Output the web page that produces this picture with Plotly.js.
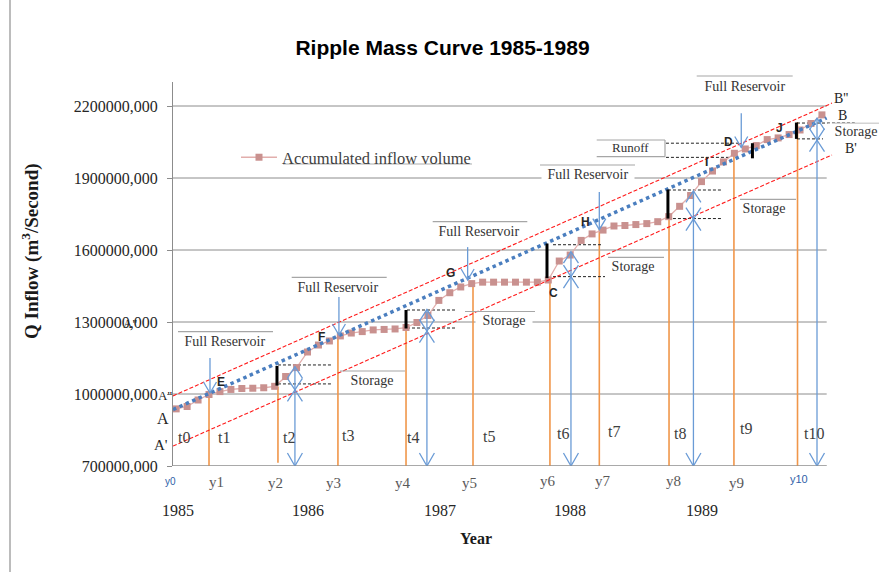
<!DOCTYPE html>
<html><head><meta charset="utf-8">
<script src="https://cdn.plot.ly/plotly-3.0.1.min.js"></script>
<style>html,body{margin:0;padding:0;background:#fff}</style>
</head><body>
<div id="chart" style="width:879px;height:572px"></div>
<script>
// ---------------- DATA ----------------
// monthly index of the accumulated inflow record (Jan 1985 = 0)
const months = [0,1,2,3,4,5,6,7,8,9,10,11,12,13,14,15,16,17,18,19,20,21,22,23,24,25,26,27,28,29,
                30,31,32,33,34,35,36,37,38,39,40,41,42,43,44,45,46,47,48,49,50,51,52,53,54,55,56,57,58,59];
// accumulated inflow volume (millions)
const inflow = [938,948,975,998,1010,1019,1023,1024,1026,1032,
                1073,1110,1175,1204,1221,1242,1254,1260,1267,1269,
                1271,1277,1298,1327,1390,1422,1446,1460,1466,1466,
                1466,1466,1466,1466,1475,1554,1579,1640,1667,1683,
                1700,1702,1706,1710,1718,1739,1782,1827,1885,1929,
                1967,2003,2021,2035,2060,2067,2081,2100,2127,2163];
const yTickVals = [700,1000,1300,1600,1900,2200];
const yTickText = ["700000,000","1000000,000","1300000,000","1600000,000","1900000,000","2200000,000"];
const yearLabels = ["1985","1986","1987","1988","1989"];
const periodLabels = ["y0","y1","y2","y3","y4","y5","y6","y7","y8","y9","y10"];
const intervalLabels = ["t0","t1","t2","t3","t4","t5","t6","t7","t8","t9","t10"];
const pointLabels = ["E","F","G","C","H","D","I","J"];

// trend (blue dotted) and envelope (red dashed) lines
const trendX = [-0.29, 59.43], trendY = [935, 2150];
const upperX = [-0.29, 59.92], upperY = [992, 2212];
const lowerX = [-0.29, 59.92], lowerY = [783, 1996];

// orange period lines y1..y10
const periodLineX = [3.0, 9.3, 14.78, 21.0, 27.12, 34.15, 38.66, 45.03, 50.96, 56.77];
const periodLineTop = [1000, 1031, 1246, 1273, 1462, 1475, 1686, 1739, 2003, 2133];
const periodLineBottom = [700, 714, 700, 700, 700, 700, 700, 700, 700, 700];

// blue "full reservoir" arrows (pointing down onto the curve)
const fullArrowX = [3.09, 14.87, 26.63, 38.66, 51.63];
const fullArrowTop = [1150, 1404, 1612, 1842, 2170];
const fullArrowTip = [1004, 1246, 1475, 1685, 2027];

// blue storage double arrows
const storArrowX = [10.85, 22.91, 36.07, 47.26, 58.55];
const storArrowTop = [1114, 1352, 1593, 1846, 2149];
const storArrowMid = [1017, 1262, 1489, 1729, 2058];
const storArrowBottom = [700, 700, 700, 700, 700];

// black storage bars
const barX = [9.21, 21.0, 33.88, 44.93, 52.65, 56.67];
const barTop = [1117, 1350, 1627, 1852, 2045, 2131];
const barBottom = [1035, 1273, 1483, 1731, 1982, 2063];

// black dashed level lines [x0, x1, level]
const levelX0 = [9.3, 9.3, 21.09, 21.09, 34.43, 34.43, 44.93, 44.93, 44.75, 44.75, 56.72, 56.72];
const levelX1 = [14.14, 14.14, 25.48, 25.48, 38.91, 39.18, 49.8, 49.8, 51.7, 50.6, 62.0, 59.1];
const levelY  = [1121, 1042, 1350, 1275, 1622, 1489, 1850, 1731, 2045, 1986, 2129, 2063];

// ---------------- GEOMETRY HELPERS ----------------
const L = 173, T = 82, W = 688, H = 384;
const XR = [-0.29, 62.57], YR = [700, 2300];
const pxPerX = W / (XR[1] - XR[0]);
const pxPerY = H / (YR[1] - YR[0]);
const PX = p => (p - L) / W;          // pixel -> paper x
const PY = p => (T + H - p) / H;      // pixel -> paper y
const xAxisEnd = XR[0] + 653.7 / pxPerX;

function addSeg(arrX, arrY, x0, y0, x1, y1) { arrX.push(x0, x1, null); arrY.push(y0, y1, null); }
function chevron(arrX, arrY, x, y, dir, hw, hh) {
  const dx = hw / pxPerX, dy = hh / pxPerY;
  arrX.push(x - dx, x, x + dx, null);
  arrY.push(y - dir * dy, y, y - dir * dy, null);
}

// orange lines
const oX = [], oY = [];
periodLineX.forEach((x, i) => addSeg(oX, oY, x, periodLineBottom[i], x, periodLineTop[i]));
// blue arrows
const bX = [], bY = [];
fullArrowX.forEach((x, i) => { addSeg(bX, bY, x, fullArrowTop[i], x, fullArrowTip[i]); chevron(bX, bY, x, fullArrowTip[i], -1, 6.5, 11); });
storArrowX.forEach((x, i) => {
  addSeg(bX, bY, x, storArrowTop[i], x, storArrowBottom[i]);
  chevron(bX, bY, x, storArrowTop[i], 1, 7.5, 11.5);
  chevron(bX, bY, x, storArrowMid[i], -1, 7.5, 11.5);
  chevron(bX, bY, x, storArrowMid[i], 1, 7.5, 11.5);
  chevron(bX, bY, x, storArrowBottom[i], -1, 7.5, 13);
});
// black bars
const kX = [], kY = [];
barX.forEach((x, i) => addSeg(kX, kY, x, barBottom[i], x, barTop[i]));
// dashed levels
const dX = [], dY = [];
levelX0.forEach((x, i) => addSeg(dX, dY, x, levelY[i], levelX1[i], levelY[i]));

const traces = [
  {x: oX, y: oY, mode: 'lines', line: {color: '#F0964A', width: 1.6}, showlegend: false, hoverinfo: 'skip'},
  {x: dX, y: dY, mode: 'lines', line: {color: '#222', width: 1, dash: '3px,2px'}, showlegend: false, hoverinfo: 'skip'},
  {x: months, y: inflow, name: 'Accumulated inflow volume', mode: 'lines+markers',
   line: {color: '#E2AEAC', width: 1.3}, marker: {symbol: 'square', size: 7, color: '#C9918F'}},
  {x: trendX, y: trendY, mode: 'lines', line: {color: '#4A7EBF', width: 3.5, dash: 'dot'}, showlegend: false, hoverinfo: 'skip'},
  {x: upperX, y: upperY, mode: 'lines', line: {color: '#FF1A1A', width: 1.1, dash: '4px,2px'}, showlegend: false, hoverinfo: 'skip'},
  {x: lowerX, y: lowerY, mode: 'lines', line: {color: '#FF1A1A', width: 1.1, dash: '4px,2px'}, showlegend: false, hoverinfo: 'skip'},
  {x: bX, y: bY, mode: 'lines', line: {color: '#6A9BD6', width: 1.3}, showlegend: false, hoverinfo: 'skip'},
  {x: kX, y: kY, mode: 'lines', line: {color: '#000', width: 3}, showlegend: false, hoverinfo: 'skip'}
];

// ---------------- SHAPES ----------------
const shapes = [];
const GRID = '#8C8C8C';
yTickVals.forEach(v => shapes.push({type: 'line', xref: 'x', yref: 'y', x0: XR[0], x1: xAxisEnd, y0: v, y1: v,
  line: {color: GRID, width: 1}, layer: 'below'}));
function pline(x0, y0, x1, y1, color, width) {
  shapes.push({type: 'line', xref: 'paper', yref: 'paper', x0: PX(x0), x1: PX(x1), y0: PY(y0), y1: PY(y1),
    line: {color: color || '#A6A6A6', width: width || 1.2}, layer: 'above'});
}
// left border of the picture
pline(10, 0, 10, 572, '#A6A6A6', 1.5);
// overlines of the text boxes
[[178, 273, 331.7], [291.7, 386.7, 277.3], [432.7, 527.3, 221.7], [540, 635, 165], [696.7, 792.7, 76],
 [340, 405, 371], [465, 535, 311.5], [608, 664, 257.3], [740, 796, 199.3], [832, 879, 123.3]]
  .forEach(s => pline(s[0], s[2], s[1], s[2]));
// Runoff box
pline(596.7, 140, 665, 140); pline(596.7, 156.7, 665, 156.7); pline(665, 140, 665, 156.7);
// legend underline
pline(283, 164, 472, 164, '#C8C8C8', 1.5);

// ---------------- TEXT ----------------
const SERIF = 'Liberation Serif, Times New Roman, serif';
const SANS = 'Liberation Sans, Arial, sans-serif';
const ann = [];
function lab(text, px, py, size, opts) {
  opts = opts || {};
  const a = {text: text, xref: 'paper', yref: 'paper', x: PX(px), y: PY(py), xanchor: 'center', yanchor: 'middle',
    showarrow: false, font: {family: opts.family || SERIF, size: size, color: opts.color || '#262626'}};
  if (opts.bg) { a.bgcolor = '#fff'; a.width = opts.w; a.borderpad = 0; }
  if (opts.angle !== undefined) a.textangle = opts.angle;
  ann.push(a);
}
// axis titles
lab('<b>Q Inflow (m<sup>3</sup>/Second)</b>', 30, 251, 19, {angle: -90, color: '#1a1a1a'});
lab('<b>Year</b>', 475.5, 538, 16, {color: '#1a1a1a'});
// year labels
[178.3, 308.3, 440, 570, 701.7].forEach((p, i) => lab(yearLabels[i], p, 510, 16));
// period labels y0..y10
const perPos = [[170, 481], [216.7, 481.7], [275, 483], [333.3, 483], [403.3, 483], [469.3, 483.3],
                [548.3, 480.7], [603.3, 480.7], [673.3, 480.7], [736, 483.3], [799, 478.7]];
perPos.forEach((p, i) => {
  if (i === 0) lab(periodLabels[i], p[0], p[1], 10, {family: SANS, color: '#2F5FA8'});
  else if (i === 10) lab(periodLabels[i], p[0], p[1], 11, {family: SANS, color: '#2F5FA8'});
  else lab(periodLabels[i], p[0], p[1], 15, {color: '#595959'});
});
// interval labels t0..t10
const tPos = [[184, 437], [224, 437], [289.3, 437], [348.3, 435], [413.3, 437], [489, 436],
              [563, 433], [614, 431], [680, 433], [746, 428], [813.5, 433]];
tPos.forEach((p, i) => lab(intervalLabels[i], p[0], p[1], 16, {color: '#404040'}));
// point labels
const ptPos = [[221, 381.7], [321.7, 336.7], [450.7, 273.3], [553.3, 293.3], [585, 221.7], [728.3, 141.7], [706.7, 161.7], [779.3, 128.3]];
ptPos.forEach((p, i) => lab('<b>' + pointLabels[i] + '</b>', p[0], p[1], 12, {family: SANS, color: '#262626'}));
// envelope labels
lab("A''", 164.5, 395, 13); lab('A', 163, 418.3, 16); lab("A'", 160.5, 445, 15);
lab("A''", 129.5, 323, 13);
lab("B''", 841, 98.3, 14); lab('B', 842, 115, 14); lab("B'", 851, 148.3, 14);
// reservoir / storage boxes
[[225, 341], [338.3, 287.3], [479, 231.7], [587.5, 174], [745, 86.7]]
  .forEach(p => lab('Full Reservoir', p[0], p[1], 14, {bg: true, w: 92, color: '#333'}));
[[371.7, 380], [504, 320.5], [633.3, 266.7], [764.3, 208.3], [855.5, 131]]
  .forEach(p => lab('Storage', p[0], p[1], 14, {bg: true, w: 56, color: '#333'}));
lab('Runoff', 630, 147.6, 13, {color: '#333'});

// ---------------- LAYOUT ----------------
const layout = {
  width: 879, height: 572,
  margin: {l: L, r: 879 - L - W, t: T, b: 572 - T - H},
  paper_bgcolor: '#fff', plot_bgcolor: '#fff',
  title: {text: '<b>Ripple Mass Curve 1985-1989</b>', x: 442.5 / 879, xanchor: 'center', y: 1 - 48 / 572, yanchor: 'middle',
          font: {family: SANS, size: 21, color: '#000'}},
  xaxis: {range: XR, showgrid: false, zeroline: false, showline: false, showticklabels: false, ticks: '', fixedrange: true},
  yaxis: {range: YR, showgrid: false, zeroline: false, showline: true, linecolor: GRID, linewidth: 1,
          tickvals: yTickVals, ticktext: yTickText, ticks: 'outside', ticklen: 5, tickcolor: GRID,
          ticklabelstandoff: 6, tickfont: {family: SERIF, size: 16, color: '#262626'}, fixedrange: true},
  showlegend: true,
  legend: {x: PX(236), xanchor: 'left', y: PY(157.5), yanchor: 'middle', bgcolor: 'rgba(0,0,0,0)', borderwidth: 0,
           font: {family: SERIF, size: 16.5, color: '#404040'}, itemwidth: 36},
  shapes: shapes,
  annotations: ann
};
// x-axis baseline (drawn within data range only)
layout.shapes.push({type: 'line', xref: 'x', yref: 'y', x0: XR[0], x1: xAxisEnd, y0: YR[0], y1: YR[0], line: {color: GRID, width: 1.2}, layer: 'above'});

Plotly.newPlot('chart', traces, layout, {displayModeBar: false, staticPlot: true});
</script>
</body></html>
